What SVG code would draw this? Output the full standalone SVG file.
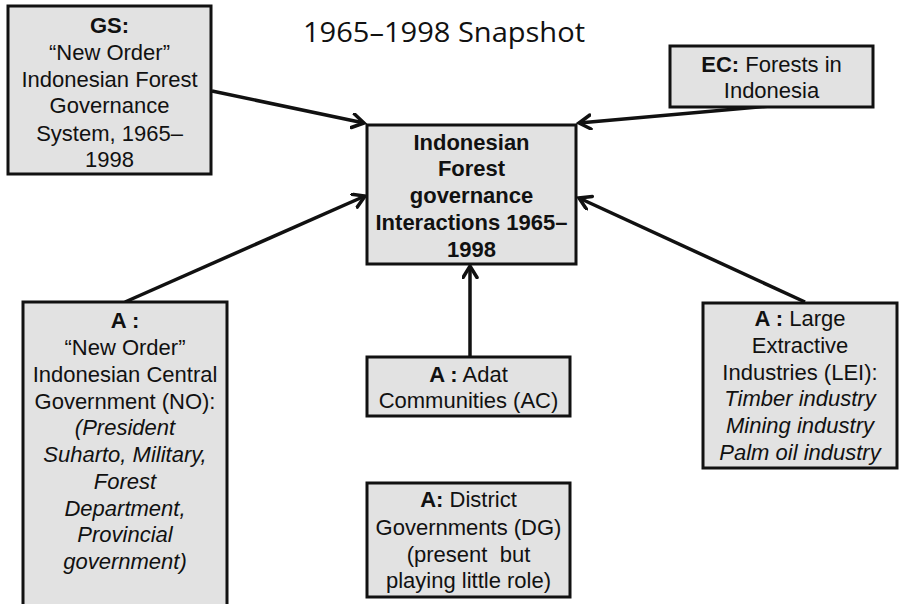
<svg xmlns="http://www.w3.org/2000/svg" width="899" height="604" viewBox="0 0 899 604">
<style>
.box{fill:#e2e2e2;stroke:#111;stroke-width:3}
.t{font-family:"Liberation Sans",Arial,sans-serif;font-size:22px;fill:#111;text-anchor:middle}
.b{font-weight:bold}
.i{font-style:italic}
.title{font-family:"Open Sans","Noto Sans",sans-serif;font-size:28px;fill:#111;text-anchor:middle}
.conn{stroke:#111;stroke-width:3.5;fill:none;marker-end:url(#arrow)}
</style>
<defs>
<marker id="arrow" markerUnits="userSpaceOnUse" markerWidth="18" markerHeight="18" refX="13" refY="8" orient="auto">
<path d="M1.5,1 L13,8 L1.5,15" fill="none" stroke="#111" stroke-width="3.5" stroke-linecap="round" stroke-linejoin="miter"/>
</marker>
</defs>
<rect width="899" height="604" fill="#fff"/>
<text class="title" x="444" y="42" textLength="282" lengthAdjust="spacingAndGlyphs">1965–1998 Snapshot</text>

<g id="connectors">
<line class="conn" x1="212" y1="91" x2="364" y2="123"/>
<line class="conn" x1="770" y1="106" x2="579" y2="123"/>
<line class="conn" x1="125" y1="302" x2="365" y2="196"/>
<line class="conn" x1="805" y1="302" x2="579" y2="198"/>
<line class="conn" x1="470" y1="357" x2="470" y2="266"/>
</g>

<g id="gs">
<rect class="box" x="8" y="6" width="203" height="168"/>
<text class="t" x="109.5"><tspan class="b" x="109.5" y="33">GS:</tspan><tspan x="109.5" y="60">“New Order”</tspan><tspan x="109.5" y="87">Indonesian Forest</tspan><tspan x="109.5" y="113">Governance</tspan><tspan x="109.5" y="141">System, 1965–</tspan><tspan x="109.5" y="167">1998</tspan></text>
</g>

<g id="central">
<rect class="box" x="367" y="125" width="209" height="139"/>
<text class="t b" x="471.5"><tspan x="471.5" y="150">Indonesian</tspan><tspan x="471.5" y="176">Forest</tspan><tspan x="471.5" y="203">governance</tspan><tspan x="471.5" y="230">Interactions 1965–</tspan><tspan x="471.5" y="257">1998</tspan></text>
</g>

<g id="ec">
<rect class="box" x="670" y="46" width="203" height="61"/>
<text class="t" x="771.5" y="72"><tspan class="b">EC:</tspan> Forests in</text>
<text class="t" x="771.5" y="98">Indonesia</text>
</g>

<g id="no">
<rect class="box" x="23" y="302" width="204" height="320"/>
<text class="t" x="125"><tspan class="b" x="125" y="328">A :</tspan><tspan x="125" y="355">“New Order”</tspan><tspan x="125" y="382">Indonesian Central</tspan><tspan x="125" y="409">Government (NO):</tspan><tspan class="i" x="125" y="435">(President</tspan><tspan class="i" x="125" y="462">Suharto, Military,</tspan><tspan class="i" x="125" y="489">Forest</tspan><tspan class="i" x="125" y="516">Department,</tspan><tspan class="i" x="125" y="542">Provincial</tspan><tspan class="i" x="125" y="569">government)</tspan></text>
</g>

<g id="lei">
<rect class="box" x="703" y="303" width="194" height="165"/>
<text class="t" x="800" y="326"><tspan class="b">A :</tspan> Large</text>
<text class="t" x="800"><tspan x="800" y="353">Extractive</tspan><tspan x="800" y="380">Industries (LEI):</tspan><tspan class="i" x="800" y="406">Timber industry</tspan><tspan class="i" x="800" y="433">Mining industry</tspan><tspan class="i" x="800" y="460">Palm oil industry</tspan></text>
</g>

<g id="ac">
<rect class="box" x="367" y="357" width="203" height="59"/>
<text class="t" x="468.5" y="382"><tspan class="b">A :</tspan> Adat</text>
<text class="t" x="468.5" y="408">Communities (AC)</text>
</g>

<g id="dg">
<rect class="box" x="367" y="483" width="203" height="114"/>
<text class="t" x="468.5" y="507"><tspan class="b">A:</tspan> District</text>
<text class="t" x="468.5" y="535">Governments (DG)</text>
<text class="t" x="468.5" y="562" xml:space="preserve" style="white-space:pre">(present  but</text>
<text class="t" x="468.5" y="588">playing little role)</text>
</g>
</svg>
